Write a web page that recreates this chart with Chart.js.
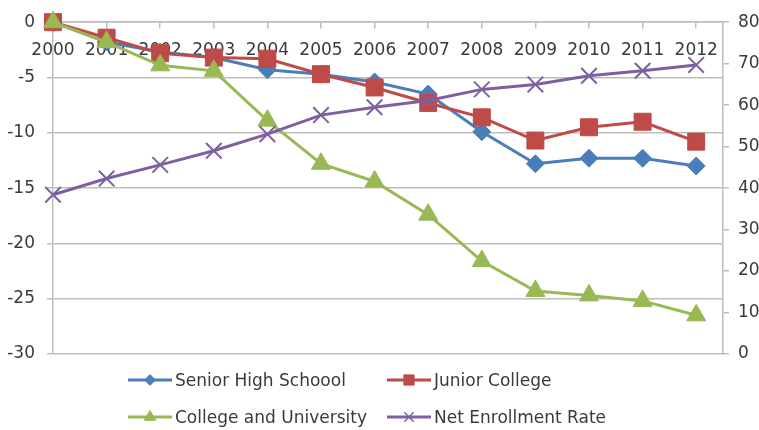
<!DOCTYPE html>
<html>
<head>
<meta charset="utf-8">
<title>Enrollment</title>
<script src="https://cdn.jsdelivr.net/npm/chart.js@4.4.0/dist/chart.umd.min.js"></script>
<style>
    html, body { margin: 0; padding: 0; background: #ffffff; }
    #wrap { position: relative; width: 759px; height: 430px; }
    #legend { position: absolute; left: 0; top: 0; width: 759px; height: 430px; pointer-events: none;
              font-family: "DejaVu Sans", sans-serif; font-size: 17px; color: #3a3a3a; }
    #legend .item { position: absolute; display: flex; align-items: center; height: 24px; white-space: nowrap; }
    #legend .item canvas { margin-right: 3px; }
</style>
</head>
<body>
<div id="wrap">
    <canvas id="enrollChart" width="759" height="430"></canvas>
    <div id="legend"></div>
</div>
<script>
// Years on the x axis
const years = ['2000', '2001', '2002', '2003', '2004', '2005', '2006',
               '2007', '2008', '2009', '2010', '2011', '2012'];

// Change rates (left axis)
const seniorHigh = [0, -1.8, -2.7, -3.2, -4.3, -4.7, -5.4, -6.5, -9.9, -12.8, -12.3, -12.3, -13.0];
const juniorCollege = [0, -1.4, -2.8, -3.2, -3.3, -4.7, -5.9, -7.3, -8.6, -10.7, -9.5, -9.0, -10.8];
const collegeUniversity = [0, -1.8, -3.9, -4.4, -8.9, -12.8, -14.4, -17.4, -21.6, -24.3, -24.7, -25.2, -26.5];

// Net enrollment rate (right axis)
const netEnrollment = [38.4, 42.3, 45.6, 49.0, 53.0, 57.6, 59.5, 61.1, 63.8, 65.0, 67.1, 68.3, 69.7];

const seriesNames = ['Senior High Schoool', 'Junior College', 'College and University', 'Net Enrollment Rate'];

const textColor = '#3a3a3a';
const gridColor = '#bdbdbd';
const tickFont = { family: 'DejaVu Sans', size: 17 };

function toPoints(values) {
    return values.map((v, i) => ({ x: i, y: v }));
}

function lineSeries(label, values, color, style, radius, axis, order) {
    return {
        label: label,
        data: toPoints(values),
        yAxisID: axis,
        borderColor: color,
        backgroundColor: color,
        borderWidth: 3,
        tension: 0,
        pointStyle: style,
        pointRadius: radius,
        pointHoverRadius: radius,
        pointBorderWidth: style === 'crossRot' ? 2 : 1,
        pointBorderColor: color,
        pointBackgroundColor: color,
        order: order,
        clip: false
    };
}

// Builds the two-column legend under the plot
const htmlLegend = {
    id: 'htmlLegend',
    afterUpdate(chart) {
        const box = document.getElementById('legend');
        box.innerHTML = '';
        const cols = [128, 387];
        const rows = [380, 417];
        chart.data.datasets.forEach((ds, i) => {
            const item = document.createElement('div');
            item.className = 'item';
            item.style.left = cols[i % 2] + 'px';
            item.style.top = (rows[Math.floor(i / 2)] - 12) + 'px';

            const swatch = document.createElement('canvas');
            swatch.width = 44;
            swatch.height = 24;
            const ctx = swatch.getContext('2d');
            ctx.strokeStyle = ds.borderColor;
            ctx.lineWidth = 3;
            ctx.beginPath();
            ctx.moveTo(0, 12);
            ctx.lineTo(44, 12);
            ctx.stroke();
            ctx.fillStyle = ds.backgroundColor;
            ctx.lineWidth = ds.pointStyle === 'crossRot' ? 1.5 : 1;
            Chart.helpers.drawPoint(ctx, {
                pointStyle: ds.pointStyle,
                radius: ds.pointRadius * 0.6,
                borderWidth: ctx.lineWidth,
                rotation: 0
            }, 22, 12);

            const text = document.createElement('span');
            text.textContent = ds.label;

            item.appendChild(swatch);
            item.appendChild(text);
            box.appendChild(item);
        });
    }
};

new Chart(document.getElementById('enrollChart').getContext('2d'), {
    type: 'line',
    data: {
        datasets: [
            lineSeries(seriesNames[0], seniorHigh, '#4a7ebb', 'rectRot', 9, 'y', 4),
            lineSeries(seriesNames[1], juniorCollege, '#be4b48', 'rect', 12, 'y', 3),
            lineSeries(seriesNames[2], collegeUniversity, '#98b954', 'triangle', 11, 'y', 2),
            lineSeries(seriesNames[3], netEnrollment, '#7d60a0', 'crossRot', 11, 'y1', 1)
        ]
    },
    options: {
        responsive: false,
        animation: false,
        layout: {
            padding: { top: 19, bottom: 76, left: 0, right: 0 }
        },
        plugins: {
            legend: { display: false },
            tooltip: { enabled: false }
        },
        scales: {
            x: {
                type: 'linear',
                position: { y: 0 },
                min: 0,
                max: 12.5,
                grid: {
                    drawOnChartArea: false,
                    drawTicks: true,
                    tickLength: 6,
                    color: gridColor,
                    lineWidth: 1.5
                },
                border: { color: gridColor, width: 1.5 },
                ticks: {
                    stepSize: 1,
                    includeBounds: false,
                    autoSkip: false,
                    maxRotation: 0,
                    padding: 12,
                    color: textColor,
                    font: tickFont,
                    callback: (value) => years[value]
                }
            },
            y: {
                position: 'left',
                min: -30,
                max: 0,
                afterFit: (scale) => { scale.width = 53; },
                grid: {
                    color: gridColor,
                    lineWidth: 1.5,
                    tickLength: 6
                },
                border: { color: gridColor, width: 1.5 },
                ticks: {
                    stepSize: 5,
                    padding: 12,
                    color: textColor,
                    font: tickFont
                }
            },
            y1: {
                position: 'right',
                min: 0,
                max: 80,
                afterFit: (scale) => { scale.width = 36; },
                grid: {
                    drawOnChartArea: false,
                    color: gridColor,
                    lineWidth: 1.5,
                    tickLength: 6
                },
                border: { color: gridColor, width: 1.5 },
                ticks: {
                    stepSize: 10,
                    padding: 9,
                    color: textColor,
                    font: tickFont
                }
            }
        }
    },
    plugins: [htmlLegend]
});
</script>
</body>
</html>
